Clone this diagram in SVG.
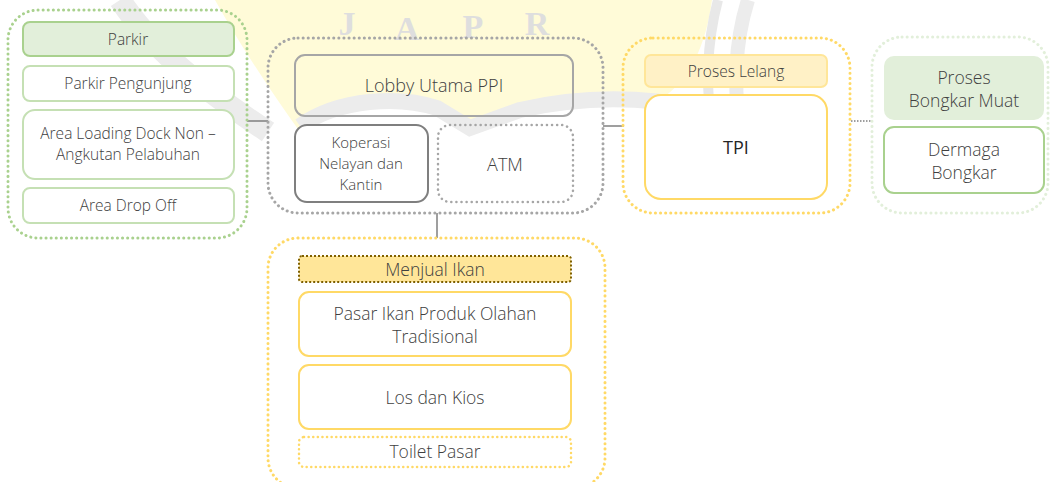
<svg xmlns="http://www.w3.org/2000/svg" width="1050" height="482" viewBox="0 0 1050 482">
<style>
text{font-family:"Open Sans","Liberation Sans",sans-serif;font-weight:300;fill:#404040;text-anchor:middle}
text.wm{font-family:"Liberation Serif","DejaVu Serif",serif;font-weight:700;fill:#dedede;font-size:34px}
.s15{font-size:15px}.s155{font-size:15.5px}.s17{font-size:17.5px}.s18{font-size:18px}
.dot{fill:none;stroke-width:3;stroke-linecap:round;stroke-dasharray:0.1 5}
.box{stroke-width:2}
.conn{stroke:#7f7f7f;stroke-width:1.5;fill:none}
</style>
<rect width="1050" height="482" fill="#ffffff"/>
<g id="watermark">
<path d="M215 0 H712 C706 45 690 80 660 100 C620 96 570 100 520 112 L470 128 L437 108 C400 96 340 100 300 132 C270 90 240 45 215 0 Z" fill="#fffbd8"/>
<path d="M120 0 C160 60 220 100 268 132" stroke="#ececec" stroke-width="22" fill="none"/>
<path d="M300 126 C340 98 400 96 437 108 L470 128 L520 110 C580 96 640 96 700 108" stroke="#ececec" stroke-width="16" fill="none"/>
<path d="M718 0 C706 45 706 90 712 125" stroke="#e8e8e8" stroke-width="10" fill="none"/>
<path d="M748 0 C734 45 734 90 740 125" stroke="#ececec" stroke-width="14" fill="none"/>
<text class="wm" x="347" y="35">J</text>
<text class="wm" x="407" y="40">A</text>
<text class="wm" x="473" y="38">P</text>
<text class="wm" x="537" y="35">R</text>
</g>
<g id="connectors">
<line class="conn" x1="247" y1="121" x2="268" y2="121"/>
<line class="conn" x1="603" y1="126" x2="624" y2="126"/>
<line class="conn" x1="437" y1="213" x2="437" y2="238"/>
<line x1="851" y1="121" x2="872" y2="121" stroke="#7f7f7f" stroke-width="1.5" stroke-dasharray="1.5 1.5"/>
</g>
<g id="group-parkir">
<rect class="dot" x="8" y="10" width="239" height="228" rx="30" stroke="#a9d18e"/>
<g id="parkir"><rect class="box" x="23" y="22" width="211" height="34" rx="7" fill="#e2efda" stroke="#a9d18e"/><text class="s155" x="128" y="45">Parkir</text></g>
<g id="parkir-pengunjung"><rect class="box" x="23" y="66" width="211" height="35" rx="7" fill="#fff" stroke="#c5e0b4"/><text class="s155" x="128" y="89">Parkir Pengunjung</text></g>
<g id="area-loading"><rect class="box" x="23" y="110" width="211" height="69" rx="12" fill="#fff" stroke="#c5e0b4"/><text class="s155" x="128" y="139">Area Loading Dock Non –</text><text class="s155" x="128" y="160">Angkutan Pelabuhan</text></g>
<g id="area-drop-off"><rect class="box" x="23" y="188" width="211" height="35" rx="7" fill="#fff" stroke="#c5e0b4"/><text class="s155" x="128" y="211">Area Drop Off</text></g>
</g>
<g id="group-lobby">
<rect class="dot" x="268" y="38" width="335" height="175" rx="30" stroke="#a6a6a6"/>
<g id="lobby"><rect class="box" x="295" y="55" width="278" height="61" rx="10" fill="none" stroke="#a6a6a6"/><text class="s18" x="434" y="92">Lobby Utama PPI</text></g>
<g id="koperasi"><rect class="box" x="295" y="125" width="133" height="77" rx="12" fill="#fff" stroke="#7f7f7f"/><text class="s15" x="361" y="148">Koperasi</text><text class="s15" x="361" y="169">Nelayan dan</text><text class="s15" x="361" y="190">Kantin</text></g>
<g id="atm"><rect class="dot" x="438" y="125" width="135" height="77" rx="12" stroke="#a6a6a6" style="stroke-width:2.5"/><text class="s18" x="505" y="171">ATM</text></g>
</g>
<g id="group-tpi">
<rect class="dot" x="623" y="38" width="227" height="175" rx="30" stroke="#ffd966"/>
<g id="proses-lelang"><rect class="box" x="645" y="55" width="182" height="32" rx="6" fill="#fff1c6" stroke="#ffe699"/><text class="s155" x="736" y="77">Proses Lelang</text></g>
<g id="tpi"><rect class="box" x="645" y="95" width="182" height="104" rx="16" fill="#fff" stroke="#ffd966"/><text x="736" y="154" style="font-size:18px;font-weight:500;fill:#262626">TPI</text></g>
</g>
<g id="group-bongkar">
<rect class="dot" x="872" y="37" width="176" height="176" rx="30" stroke="#e2efda"/>
<g id="proses-bongkar"><rect x="884" y="56" width="160" height="64" rx="10" fill="#e2efda"/><text class="s17" x="964" y="84">Proses</text><text class="s17" x="964" y="107">Bongkar Muat</text></g>
<g id="dermaga"><rect class="box" x="884" y="127" width="160" height="66" rx="10" fill="#fff" stroke="#a9d18e"/><text class="s17" x="964" y="156">Dermaga</text><text class="s17" x="964" y="179">Bongkar</text></g>
</g>
<g id="group-pasar">
<rect class="dot" x="268" y="238" width="337" height="250" rx="30" stroke="#ffd966"/>
<g id="menjual-ikan"><rect x="299" y="256" width="272" height="26" rx="3" fill="#ffe699" stroke="#7f6000" stroke-width="2" stroke-dasharray="2 2"/><text class="s17" x="435" y="276">Menjual Ikan</text></g>
<g id="pasar-ikan"><rect class="box" x="299" y="292" width="272" height="64" rx="10" fill="#fff" stroke="#ffd966"/><text class="s17" x="435" y="320">Pasar Ikan Produk Olahan</text><text class="s17" x="435" y="343">Tradisional</text></g>
<g id="los-kios"><rect class="box" x="299" y="365" width="272" height="64" rx="10" fill="#fff" stroke="#ffd966"/><text class="s17" x="435" y="404">Los dan Kios</text></g>
<g id="toilet-pasar"><rect x="299" y="437" width="272" height="30" rx="5" fill="none" stroke="#ffd966" stroke-width="2.5" stroke-linecap="round" stroke-dasharray="0.1 4.5"/><text class="s17" x="435" y="458">Toilet Pasar</text></g>
</g>
</svg>
